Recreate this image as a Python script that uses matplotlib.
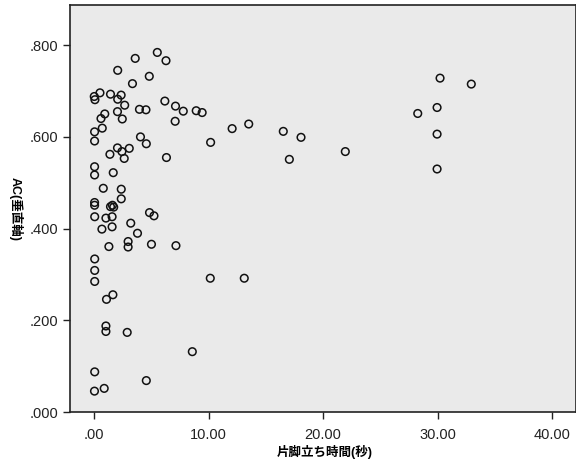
import matplotlib
matplotlib.use("Agg")
import matplotlib.pyplot as plt
from matplotlib.patches import Rectangle

plt.rcParams['font.family'] = ['Liberation Sans', 'Noto Sans CJK JP']
plt.rcParams['hatch.color'] = '#9a9a9a'
plt.rcParams['hatch.linewidth'] = 0.7

# one-leg standing time (s) and AC (vertical axis)
stand_time = [
    5.51, 6.27, 3.58, 2.05, 4.81, 3.34, 0.50, 0.00, 0.06, 1.42,
    2.35, 2.05, 2.66, 6.17, 7.10, 3.95, 4.52, 0.92, 2.03, 0.59,
    2.45, 7.07, 7.78, 8.91, 9.43, 12.05, 13.50, 0.70, 0.03, 0.03,
    4.04, 4.55, 2.03, 3.06, 1.37, 2.42, 2.62, 6.31, 10.17, 0.03,
    0.03, 1.66, 0.79, 2.36, 2.36, 0.03, 0.03, 1.42, 1.59, 1.70,
    4.83, 5.22, 0.04, 1.02, 1.56, 3.19, 0.67, 1.56, 3.78, 2.96,
    2.96, 1.28, 5.00, 7.14, 0.04, 0.04, 0.04, 1.63, 1.07, 1.02,
    1.02, 2.88, 0.04, 4.55, 0.87, 0.02, 8.57, 10.14, 13.11, 16.52,
    18.07, 17.05, 21.94, 30.22, 32.95, 29.96, 28.27, 29.96, 29.96,
]
ac_vertical = [
    0.784, 0.766, 0.771, 0.745, 0.732, 0.716, 0.696, 0.688, 0.681, 0.693,
    0.691, 0.682, 0.669, 0.678, 0.667, 0.660, 0.659, 0.650, 0.655, 0.640,
    0.639, 0.634, 0.656, 0.657, 0.653, 0.618, 0.628, 0.619, 0.611, 0.591,
    0.600, 0.585, 0.576, 0.575, 0.562, 0.568, 0.553, 0.555, 0.588, 0.535,
    0.517, 0.522, 0.488, 0.486, 0.465, 0.457, 0.451, 0.448, 0.451, 0.447,
    0.435, 0.428, 0.426, 0.423, 0.426, 0.412, 0.399, 0.404, 0.390, 0.372,
    0.360, 0.361, 0.366, 0.363, 0.334, 0.309, 0.285, 0.256, 0.246, 0.188,
    0.176, 0.174, 0.088, 0.069, 0.052, 0.046, 0.132, 0.292, 0.292, 0.612,
    0.599, 0.551, 0.568, 0.728, 0.715, 0.664, 0.651, 0.606, 0.530,
]

x_ticks = [0, 10, 20, 30, 40]
x_tick_labels = ['.00', '10.00', '20.00', '30.00', '40.00']
y_ticks = [0.0, 0.2, 0.4, 0.6, 0.8]
y_tick_labels = ['.000', '.200', '.400', '.600', '.800']

fig = plt.figure(figsize=(5.76, 4.69), dpi=100)
ax = fig.add_axes([0.1215, 0.121, 0.8785, 0.868])
ax.set_facecolor('#eaeaea')
ax.add_patch(Rectangle((0, 0), 1, 1, transform=ax.transAxes, facecolor='none',
                       edgecolor='none', hatch='........', zorder=0))

ax.scatter(stand_time, ac_vertical, s=30, facecolors='none', edgecolors='#111111',
           linewidths=1.1, zorder=3)

ax.set_xlim(-2.12, 42.1)
ax.set_ylim(0, 0.887)
ax.set_xticks(x_ticks)
ax.set_xticklabels(x_tick_labels)
ax.set_yticks(y_ticks)
ax.set_yticklabels(y_tick_labels)
ax.tick_params(axis='both', direction='out', length=5, width=1, labelsize=10.5,
               colors='#222222')
ax.tick_params(axis='x', pad=6)
for sp in ax.spines.values():
    sp.set_linewidth(1.2)
    sp.set_color('#222222')

fig.text(0.563, 0.037, '片脚立ち時間(秒)', ha='center', va='center',
         fontsize=9, fontweight='bold')
fig.text(0.027, 0.555, 'AC(垂直軸)', ha='center', va='center', rotation=-90,
         fontsize=9, fontweight='bold')

fig.savefig('out.png', dpi=100)
